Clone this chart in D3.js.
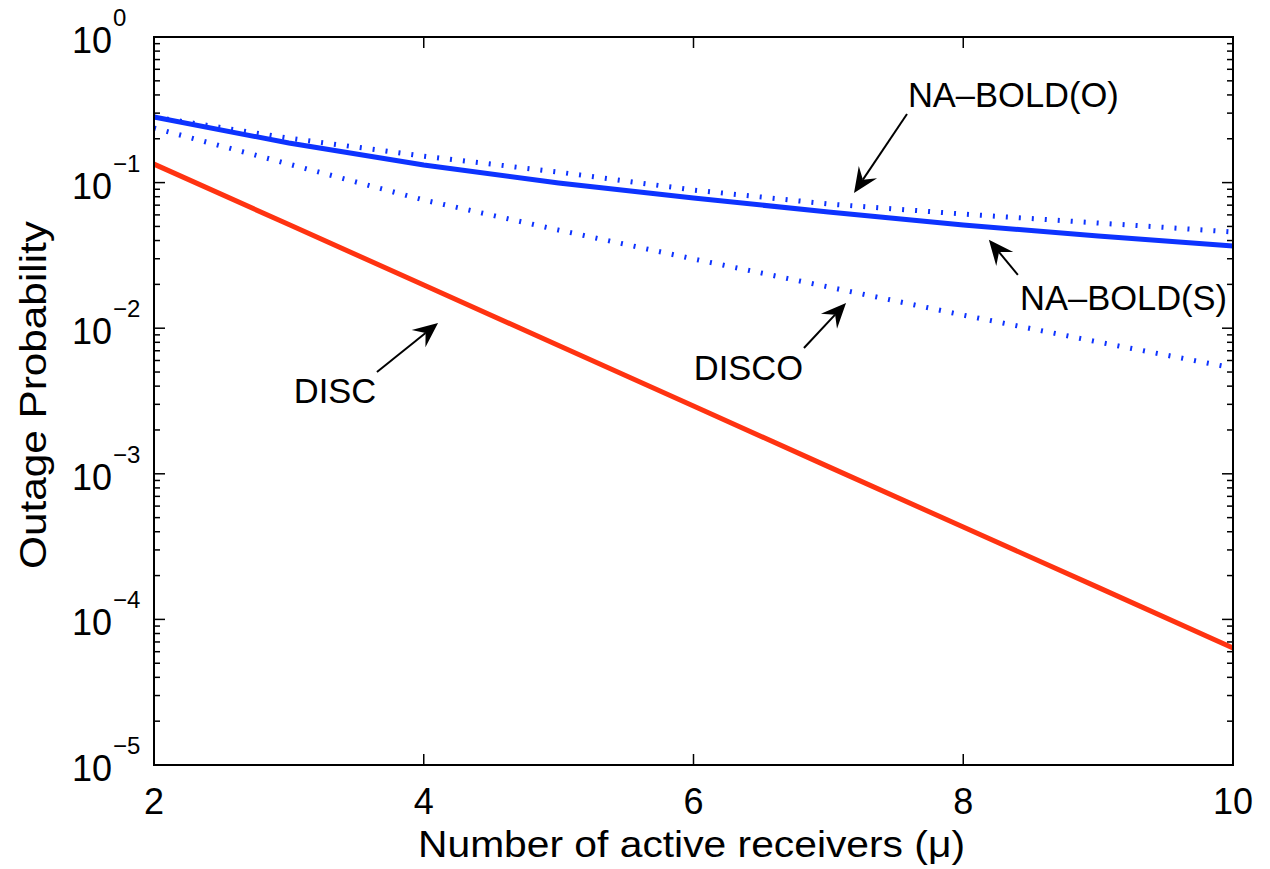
<!DOCTYPE html>
<html><head><meta charset="utf-8">
<script src="https://cdn.jsdelivr.net/npm/d3@7"></script>
<style>
body{margin:0;background:#fff;}
text{font-family:"Liberation Sans",Arial,Helvetica,sans-serif;fill:#000;}
</style></head>
<body>
<svg id="chart" width="1270" height="869"></svg>
<script>
// ---- data ----
const receivers = [2,3,4,5,6,7,8,9,10];
const naBoldS = [0.282,0.187,0.132,0.0994,0.0784,0.0628,0.0511,0.043,0.0367];
const naBoldO = [0.282,0.202,0.152,0.118,0.0889,0.0713,0.0608,0.0528,0.0458];
const disco   = [0.237,0.134,0.0759,0.0472,0.0299,0.0192,0.0123,0.00804,0.00533];
const disc    = [0.134,0.0515,0.0198,0.0076,0.00292,0.00112,4.31e-4,1.66e-4,6.37e-5];
const xTicks = [2,4,6,8,10];
const yExponents = [0,-1,-2,-3,-4,-5];
// annotations in data coordinates: tip, tail, label anchor
const annLabels = ["DISC","DISCO","NA\u2013BOLD(O)","NA\u2013BOLD(S)"];
const annTip   = [[4.106,0.01086],[7.131,0.0149],[7.19,0.0849],[8.19,0.0405]];
const annTail  = [[3.653,0.005],[6.819,0.00731],[7.583,0.296],[8.405,0.0232]];
const annText  = [[3.342,0.00306],[6.407,0.0044],[7.59,0.3305],[8.421,0.01334]];
const annAnchor= ["middle","middle","start","start"];

// ---- layout ----
const L=154,R=1233,T=37,B=765;
const svg=d3.select("#chart");
const x=d3.scaleLinear().domain([2,10]).range([L,R]);
const y=d3.scaleLog().domain([1e-5,1]).range([B,T]);
const blue="#0d33ff", red="#ff3311";

const line=d3.line().x((d,i)=>x(receivers[i])).y(d=>y(d));

svg.append("path").datum(disc).attr("d",line).attr("fill","none")
  .attr("stroke",red).attr("stroke-width",5);
svg.append("path").datum(naBoldS).attr("d",line).attr("fill","none")
  .attr("stroke",blue).attr("stroke-width",5);
svg.append("path").datum(naBoldO).attr("d",line).attr("fill","none")
  .attr("stroke",blue).attr("stroke-width",5).attr("stroke-dasharray","2,11");
svg.append("path").datum(disco).attr("d",line).attr("fill","none")
  .attr("stroke",blue).attr("stroke-width",5).attr("stroke-dasharray","2,11");

// axes box
const g=svg.append("g");
g.append("rect").attr("x",L).attr("y",T).attr("width",R-L).attr("height",B-T)
  .attr("fill","none").attr("stroke","#000").attr("stroke-width",2);

// y ticks
const minor=[];
for(let e=-5;e<0;e++){for(let k=2;k<=9;k++)minor.push(k*Math.pow(10,e));}
minor.forEach(v=>{
  g.append("line").attr("x1",L).attr("x2",L+6).attr("y1",y(v)).attr("y2",y(v)).attr("stroke","#000").attr("stroke-width",1.5);
  g.append("line").attr("x1",R).attr("x2",R-6).attr("y1",y(v)).attr("y2",y(v)).attr("stroke","#000").attr("stroke-width",1.5);
});
yExponents.forEach(e=>{
  const v=Math.pow(10,e), yy=y(v);
  g.append("line").attr("x1",L).attr("x2",L+11).attr("y1",yy).attr("y2",yy).attr("stroke","#000").attr("stroke-width",1.5);
  g.append("line").attr("x1",R).attr("x2",R-11).attr("y1",yy).attr("y2",yy).attr("stroke","#000").attr("stroke-width",1.5);
  g.append("text").attr("x",112).attr("y",yy+16).attr("text-anchor","end")
    .style("font-size","36px").text("10");
  g.append("text").attr("x",113).attr("y",yy-11).attr("text-anchor","start")
    .style("font-size","24px").text(e===0?"0":"\u2212"+(-e));
});
// x ticks
xTicks.forEach(t=>{
  const xx=x(t);
  g.append("line").attr("x1",xx).attr("x2",xx).attr("y1",B).attr("y2",B-11).attr("stroke","#000").attr("stroke-width",1.5);
  g.append("line").attr("x1",xx).attr("x2",xx).attr("y1",T).attr("y2",T+11).attr("stroke","#000").attr("stroke-width",1.5);
  g.append("text").attr("x",xx).attr("y",814).attr("text-anchor","middle")
    .style("font-size","36px").text(t);
});
// titles
svg.append("text").attr("x",418).attr("y",857).attr("text-anchor","start")
  .attr("textLength",547).attr("lengthAdjust","spacingAndGlyphs")
  .style("font-size","36px").text("Number of active receivers (\u03bc)");
svg.append("text").attr("transform",`translate(46,569) rotate(-90)`)
  .attr("text-anchor","start").attr("textLength",348).attr("lengthAdjust","spacingAndGlyphs")
  .style("font-size","36px").text("Outage Probability");

// annotations
annLabels.forEach((lab,i)=>{
  const tx=x(annTip[i][0]), ty=y(annTip[i][1]);
  const sx=x(annTail[i][0]), sy=y(annTail[i][1]);
  const dx=tx-sx, dy=ty-sy, len=Math.hypot(dx,dy), ux=dx/len, uy=dy/len;
  const px=-uy, py=ux;
  const hl=25, hw=11, notch=16;
  const bx=tx-ux*hl, by=ty-uy*hl;
  const nx=tx-ux*notch, ny=ty-uy*notch;
  svg.append("line").attr("x1",sx).attr("y1",sy).attr("x2",nx).attr("y2",ny)
    .attr("stroke","#000").attr("stroke-width",2);
  svg.append("path").attr("d",`M${tx},${ty}L${bx+px*hw},${by+py*hw}L${nx},${ny}L${bx-px*hw},${by-py*hw}Z`)
    .attr("fill","#000");
  svg.append("text").attr("x",x(annText[i][0])).attr("y",y(annText[i][1]))
    .attr("text-anchor",annAnchor[i]).style("font-size","34.5px").text(lab);
});
</script>
</body></html>
